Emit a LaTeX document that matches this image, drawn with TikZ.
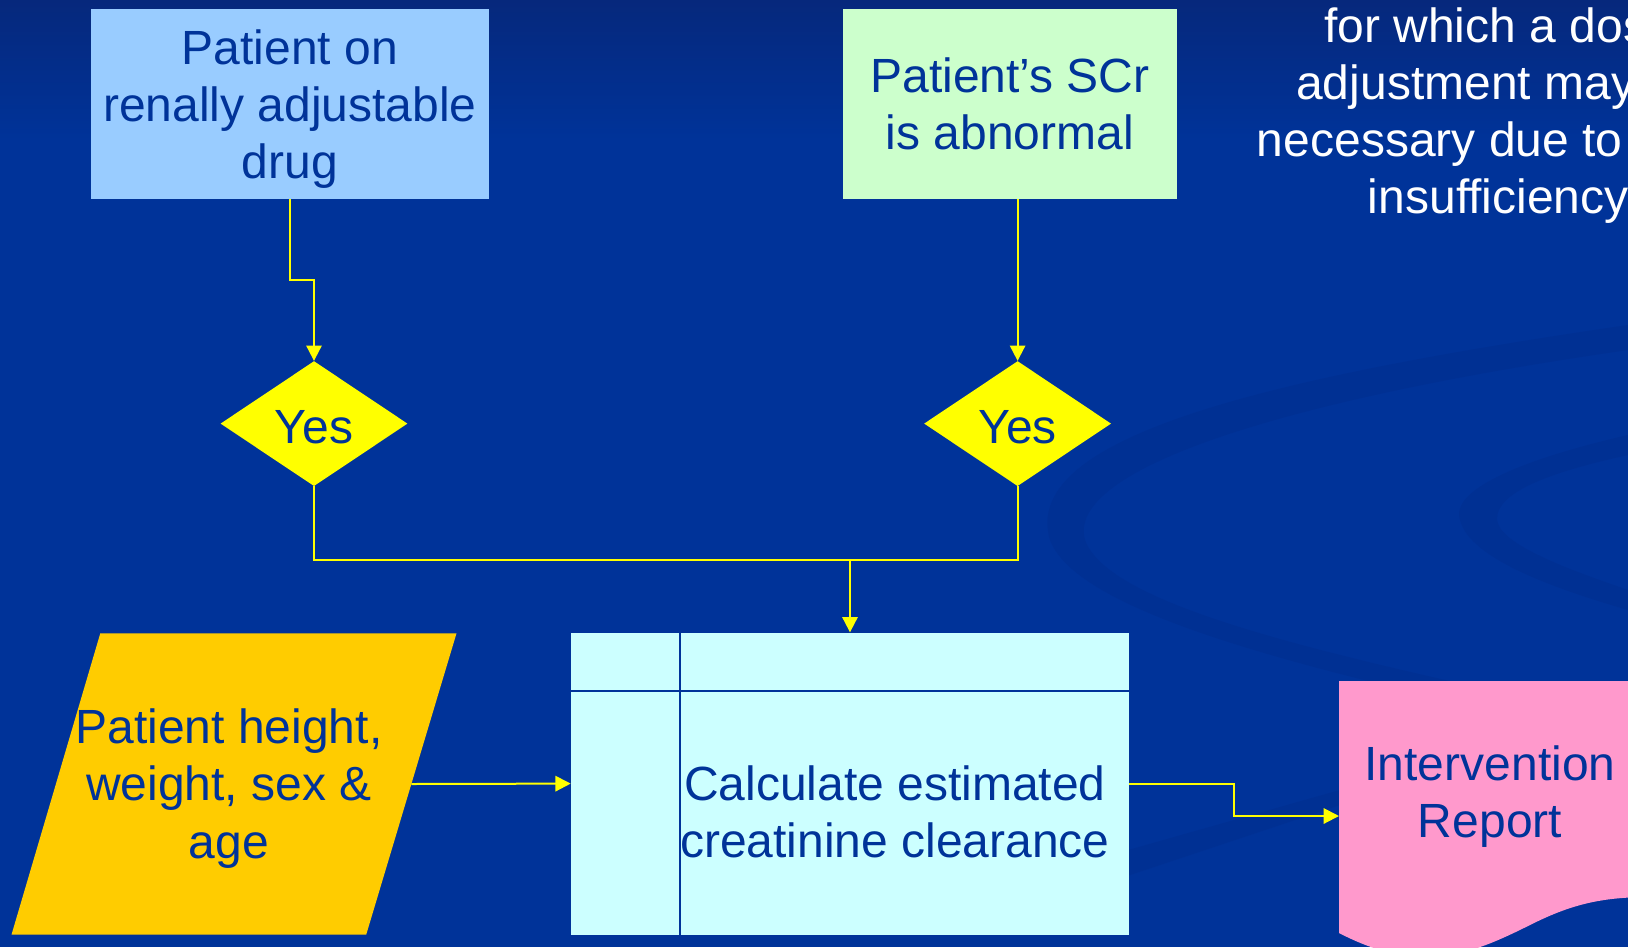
\documentclass[tikz,border=0pt]{standalone}
\usepackage{fontspec}
\setmainfont{Liberation Sans}
\usetikzlibrary{shapes.geometric,arrows.meta}

\definecolor{bgblue}{RGB}{0,51,153}
\definecolor{bgtop}{RGB}{6,40,124}
\definecolor{swirlblue}{RGB}{0,48,147}
\definecolor{inkblue}{RGB}{0,51,153}
\definecolor{drugfill}{HTML}{99CCFF}
\definecolor{scrfill}{HTML}{CCFFCC}
\definecolor{calcfill}{HTML}{CCFFFF}
\definecolor{inputfill}{HTML}{FFCC00}
\definecolor{reportfill}{HTML}{FF99CC}
\definecolor{flowyellow}{HTML}{FFFF00}

\tikzset{
  txt/.style={font=\fontsize{36pt}{43pt}\selectfont, text=inkblue, align=center, inner sep=0pt},
  startbox/.style={txt, rectangle, minimum height=142.5pt},
  yesbox/.style={txt, diamond, fill=flowyellow, aspect=1.5, text height=30.5pt,
    minimum width=140.25pt, minimum height=93.75pt},
  flow/.style={draw=flowyellow, line width=1.5pt},
  flowarrow/.style={flow, -{Triangle[length=11.5pt,width=11.5pt]}}
}

\begin{document}
\begin{tikzpicture}[x=0.75pt,y=-0.75pt]
\useasboundingbox (0,0) rectangle (1628,947);
\clip (0,0) rectangle (1628,947);
%background
\fill[bgblue] (0,0) rectangle (1628,947);
\shade[top color=bgtop, bottom color=bgblue] (0,0) rectangle (1628,140);
\fill[swirlblue] (1628,325) .. controls (1250,380) and (1020,440) .. (1050,540)
    .. controls (1080,620) and (1350,680) .. (1628,740) -- (1628,720)
    .. controls (1350,660) and (1110,610) .. (1085,540)
    .. controls (1065,470) and (1280,400) .. (1628,350) -- cycle;
\fill[swirlblue] (1628,435) .. controls (1520,460) and (1450,490) .. (1460,520)
    .. controls (1470,560) and (1560,590) .. (1628,610) -- (1628,590)
    .. controls (1570,570) and (1500,545) .. (1497,520)
    .. controls (1495,490) and (1560,470) .. (1628,455) -- cycle;
\fill[swirlblue] (1040,875) -- (1340,790) -- (1340,805) -- (1040,905) -- cycle;
%note at the top right
\foreach \lx/\ly/\ltext [count=\i] in {1324/42/for which a dos, 1296/99/adjustment may,
    1256.7/156.7/necessary due to, 1367.7/213/insufficiency}
  \node[txt, text=white, anchor=base west] (note\i) at (\lx,\ly) {\ltext};
%top boxes
\node[startbox, fill=drugfill, minimum width=298.5pt, text depth=0pt] (drug) at (290,104)
    {Patient on\\renally adjustable\\drug};
\node[startbox, fill=scrfill, minimum width=250.5pt] (scr) at (1010,104)
    {Patient’s SCr\\is abnormal};
%decisions
\node[yesbox] (yes1) at (314,423.6) {Yes};
\node[yesbox] (yes2) at (1017.6,423.6) {Yes};
%calculation box
\node[txt, fill=calcfill, minimum width=418.5pt, minimum height=226.5pt] (calc) at (850,783.6) {};
\coordinate (cdiv) at (680,691);
\draw[inkblue, line width=1.5pt] (calc.north -| cdiv) -- (calc.south -| cdiv);
\draw[inkblue, line width=1.5pt] (calc.west |- cdiv) -- (calc.east |- cdiv);
\node[txt] (calctext) at (895,812) {Calculate estimated\\creatinine clearance};
%input
\fill[inputfill] (100.3,633.3) -- (456.5,633.3) -- coordinate[pos=.5] (inputR) (366.2,934.7)
    -- (11.5,934.7) -- cycle;
\node[txt] (input) at (229,788.5) {Patient height,\\weight, sex \&\\age};
%report
\fill[reportfill] (1339,681) -- (1650,681) -- (1650,897)
    .. controls (1600,897) and (1570,905) .. (1530,925)
    .. controls (1470,955) and (1420,975) .. (1339,933) -- cycle;
\coordinate (reportW) at (1339,816);
\node[txt] (report) at (1490,796.5) {Intervention\\Report};
%connectors
\draw[flowarrow] (drug.south) -- ++(0,81) -| (yes1.north);
\draw[flowarrow] (yes2.north |- scr.south) -- (yes2.north);
\coordinate (join) at (850,560);
\draw[flow] (yes1.south) |- (join) -| (yes2.south);
\draw[flowarrow] (join) -- (calc.north);
\draw[flowarrow] (inputR) -- (calc.west);
\draw[flowarrow] (calc.east) -- ++(104.7,0) |- (reportW);
\end{tikzpicture}
\end{document}
